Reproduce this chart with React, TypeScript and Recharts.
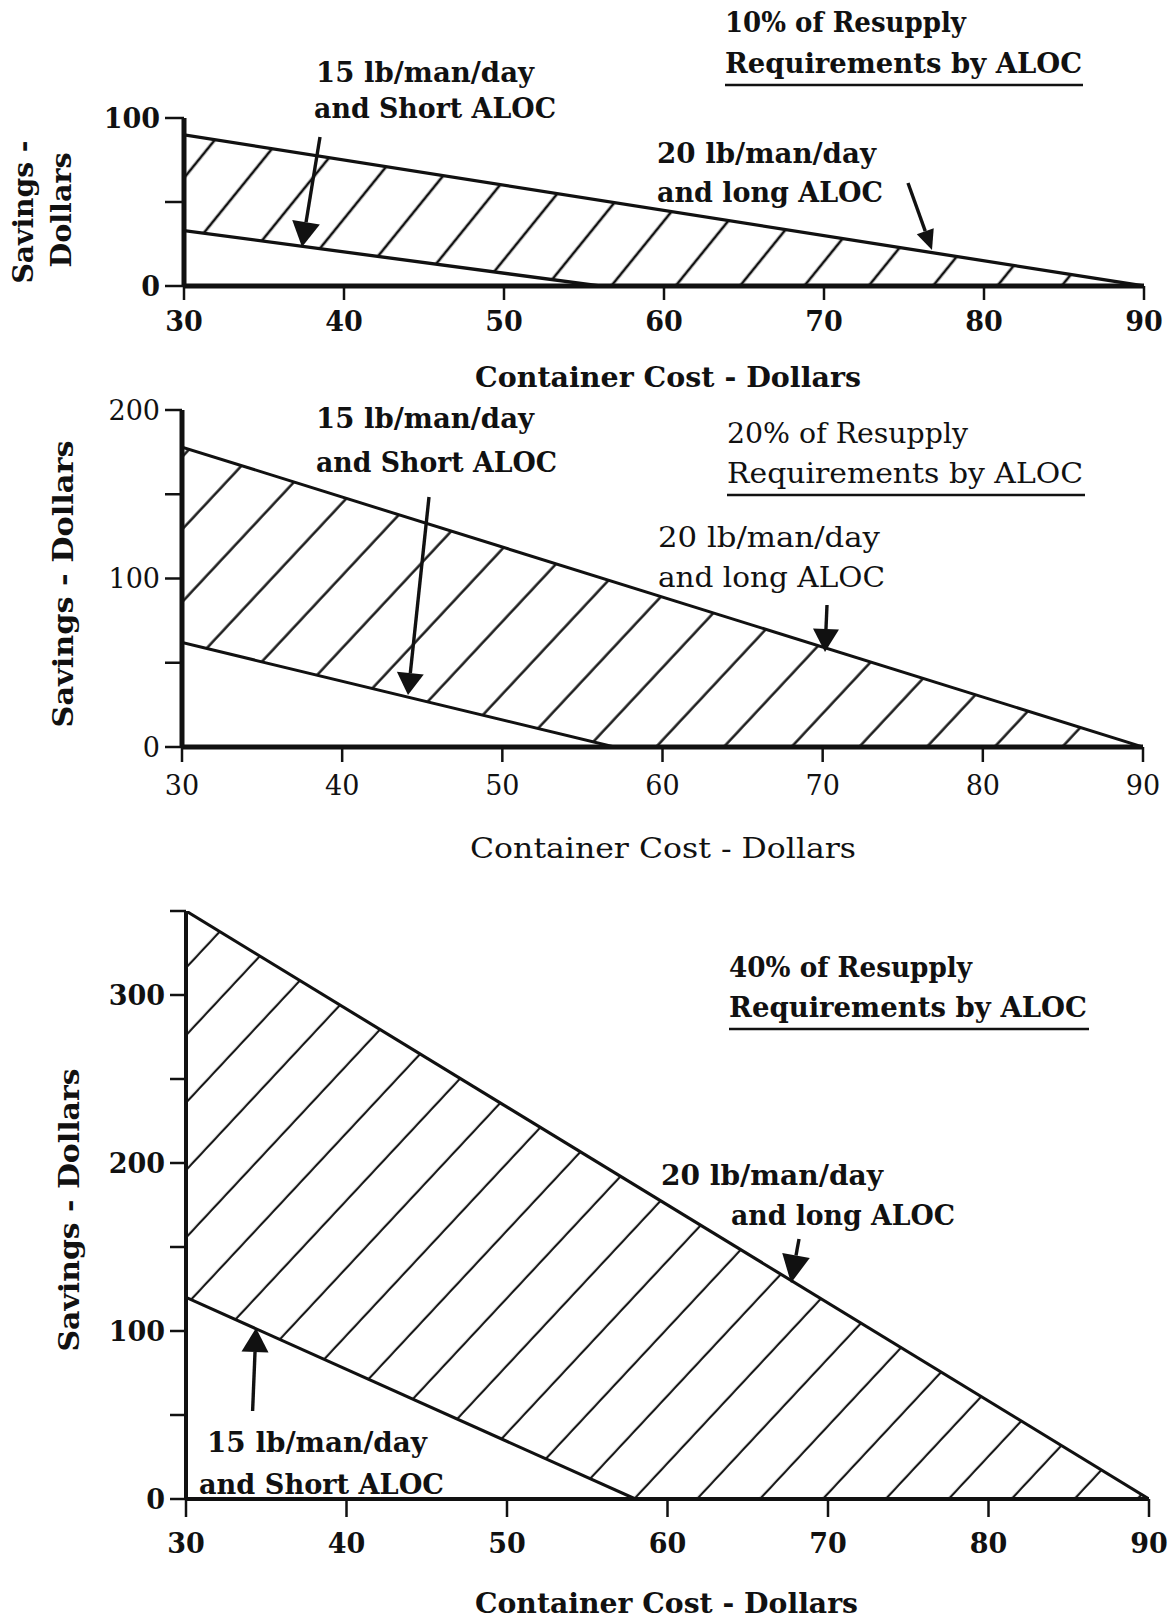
import React from 'react';
import { ComposedChart, Area, XAxis, YAxis } from 'recharts';

// ---------- data ----------
const xTicks = [30, 40, 50, 60, 70, 80, 90];

// Panel 1: 10% of resupply requirements by ALOC
const p1Cost = [30, 56, 90];
const p1Long = [90, null, 0]; // 20 lb/man/day and long ALOC
const p1Short = [33, 0, null]; // 15 lb/man/day and Short ALOC
const p1YTicks = [0, 50, 100];
const p1YLabels = [0, 100];

// Panel 2: 20%
const p2Cost = [30, 57, 90];
const p2Long = [178, null, 0];
const p2Short = [62, 0, null];
const p2YTicks = [0, 50, 100, 150, 200];
const p2YLabels = [0, 100, 200];

// Panel 3: 40%
const p3Cost = [30, 58, 90];
const p3Long = [350, null, 0];
const p3Short = [120, 0, null];
const p3YTicks = [0, 50, 100, 150, 200, 250, 300, 350];
const p3YLabels = [0, 100, 200, 300];

const build = (cost: number[], long: (number | null)[], short: (number | null)[]) =>
  cost.map((c, i) => ({ cost: c, long: long[i], short: short[i] }));

const FONT = 'DejaVu Serif';
const INK = '#111';

type Panel = {
  id: string;
  data: any[];
  yMax: number;
  yTicks: number[];
  yLabels: number[];
  top: number;
  height: number;
  margin: { top: number; right: number; bottom: number; left: number };
  hatchAngle: number;
  hatchGap: number;
  hatchOff: number;
  hatchW: number;
  lineW: number;
  axisW: number;
  xTickSize: number;
  xTickMargin: number;
  yTickSize: number;
  yTickMargin: number;
  weight: string;
};

const panels: Panel[] = [
  {
    id: 'p1', data: build(p1Cost, p1Long, p1Short), yMax: 100, yTicks: p1YTicks, yLabels: p1YLabels,
    top: 0, height: 400, margin: { top: 118, right: 27, bottom: 64, left: 124 },
    hatchAngle: 39, hatchGap: 50, hatchOff: 5, hatchW: 2.6, lineW: 3.3, axisW: 5,
    xTickSize: 14, xTickMargin: 12, yTickSize: 19, yTickMargin: 5, weight: 'bold',
  },
  {
    id: 'p2', data: build(p2Cost, p2Long, p2Short), yMax: 200, yTicks: p2YTicks, yLabels: p2YLabels,
    top: 390, height: 440, margin: { top: 20, right: 28, bottom: 33, left: 122 },
    hatchAngle: 43, hatchGap: 49.5, hatchOff: 30.3, hatchW: 2.4, lineW: 3, axisW: 5,
    xTickSize: 15, xTickMargin: 14, yTickSize: 17, yTickMargin: 5, weight: 'normal',
  },
  {
    id: 'p3', data: build(p3Cost, p3Long, p3Short), yMax: 350, yTicks: p3YTicks, yLabels: p3YLabels,
    top: 880, height: 740, margin: { top: 31, right: 22, bottom: 71, left: 126 },
    hatchAngle: 43, hatchGap: 46, hatchOff: 11.9, hatchW: 2.1, lineW: 3.1, axisW: 4,
    xTickSize: 18, xTickMargin: 17, yTickSize: 16, yTickMargin: 5, weight: 'bold',
  },
];

function PanelChart({ p }: { p: Panel }) {
  const tickStyle = { fill: INK, fontSize: 27, fontFamily: FONT, fontWeight: p.weight as any };
  return (
    <div style={{ position: 'absolute', left: 0, top: p.top, width: 1171, height: p.height }}>
      <ComposedChart width={1171} height={p.height} data={p.data} margin={p.margin}>
        <defs>
          <pattern
            id={`hatch-${p.id}`}
            patternUnits="userSpaceOnUse"
            width={p.hatchGap}
            height={10}
            patternTransform={`rotate(${p.hatchAngle})`}
          >
            <rect x={0} y={0} width={p.hatchGap} height={10} fill="#fff" />
            <line x1={p.hatchOff} y1={-1} x2={p.hatchOff} y2={11} stroke={INK} strokeWidth={p.hatchW} />
          </pattern>
        </defs>
        <Area
          type="linear"
          dataKey="long"
          connectNulls
          stroke={INK}
          strokeWidth={p.lineW}
          fill={`url(#hatch-${p.id})`}
          fillOpacity={1}
          dot={false}
          activeDot={false}
          isAnimationActive={false}
        />
        <Area
          type="linear"
          dataKey="short"
          stroke={INK}
          strokeWidth={p.lineW}
          fill="#fff"
          fillOpacity={1}
          dot={false}
          activeDot={false}
          isAnimationActive={false}
        />
        <XAxis
          dataKey="cost"
          type="number"
          domain={[30, 90]}
          ticks={xTicks}
          interval={0}
          height={50}
          tickSize={p.xTickSize}
          tickMargin={p.xTickMargin}
          axisLine={{ stroke: INK, strokeWidth: p.axisW }}
          tickLine={{ stroke: INK, strokeWidth: 2.5 }}
          tick={tickStyle}
          allowDataOverflow
        />
        <YAxis
          type="number"
          domain={[0, p.yMax]}
          ticks={p.yTicks}
          interval={0}
          width={60}
          tickSize={p.yTickSize}
          tickMargin={p.yTickMargin}
          tickFormatter={(v: number) => (p.yLabels.includes(v) ? String(v) : '')}
          axisLine={{ stroke: INK, strokeWidth: p.axisW }}
          tickLine={{ stroke: INK, strokeWidth: 2.5 }}
          tick={tickStyle}
          allowDataOverflow
        />
      </ComposedChart>
    </div>
  );
}

// ---------- annotation layout ----------
type Txt = { t: string; x: number; y: number; w: number; weight: string; rot?: boolean };
const texts: Txt[] = [
  // panel 1
  { t: '15 lb/man/day', x: 316, y: 72, w: 218, weight: 'bold' },
  { t: 'and Short ALOC', x: 314, y: 108, w: 242, weight: 'bold' },
  { t: '10% of Resupply', x: 725, y: 22, w: 241, weight: 'bold' },
  { t: 'Requirements by ALOC', x: 725, y: 63, w: 357, weight: 'bold' },
  { t: '20 lb/man/day', x: 657, y: 153, w: 219, weight: 'bold' },
  { t: 'and long ALOC', x: 657, y: 192, w: 226, weight: 'bold' },
  { t: 'Container Cost - Dollars', x: 475, y: 377, w: 386, weight: 'bold' },
  { t: 'Savings -', x: 23, y: 212, w: 143, weight: 'bold', rot: true },
  { t: 'Dollars', x: 61, y: 210, w: 115, weight: 'bold', rot: true },
  // panel 2
  { t: '15 lb/man/day', x: 316, y: 418, w: 218, weight: 'bold' },
  { t: 'and Short ALOC', x: 316, y: 462, w: 241, weight: 'bold' },
  { t: '20% of Resupply', x: 727, y: 433, w: 241, weight: 'normal' },
  { t: 'Requirements by ALOC', x: 727, y: 473, w: 356, weight: 'normal' },
  { t: '20 lb/man/day', x: 658, y: 537, w: 222, weight: 'normal' },
  { t: 'and long ALOC', x: 658, y: 577, w: 227, weight: 'normal' },
  { t: 'Container Cost - Dollars', x: 470, y: 848, w: 386, weight: 'normal' },
  { t: 'Savings - Dollars', x: 63, y: 584, w: 287, weight: 'bold', rot: true },
  // panel 3
  { t: '40% of Resupply', x: 729, y: 967, w: 243, weight: 'bold' },
  { t: 'Requirements by ALOC', x: 729, y: 1007, w: 358, weight: 'bold' },
  { t: '20 lb/man/day', x: 661, y: 1175, w: 222, weight: 'bold' },
  { t: 'and long ALOC', x: 731, y: 1215, w: 224, weight: 'bold' },
  { t: '15 lb/man/day', x: 207, y: 1442, w: 220, weight: 'bold' },
  { t: 'and Short ALOC', x: 199, y: 1484, w: 245, weight: 'bold' },
  { t: 'Container Cost - Dollars', x: 475, y: 1603, w: 383, weight: 'bold' },
  { t: 'Savings - Dollars', x: 69, y: 1210, w: 283, weight: 'bold', rot: true },
];

const underlines = [
  { x1: 725, x2: 1083, y: 85 },
  { x1: 727, x2: 1085, y: 495 },
  { x1: 729, x2: 1089, y: 1029 },
];

const arrows = [
  { x1: 320, y1: 137, x2: 302, y2: 247, L: 25, W: 28 },
  { x1: 908, y1: 183, x2: 932, y2: 250, L: 20, W: 18 },
  { x1: 429, y1: 497, x2: 408, y2: 695, L: 22, W: 27 },
  { x1: 827, y1: 605, x2: 825, y2: 652, L: 23, W: 26 },
  { x1: 799, y1: 1239, x2: 791, y2: 1283, L: 28, W: 28 },
  { x1: 252.6, y1: 1411, x2: 256, y2: 1328, L: 24, W: 27 },
];

function Arrow({ a }: { a: typeof arrows[number] }) {
  const dx = a.x2 - a.x1;
  const dy = a.y2 - a.y1;
  const len = Math.hypot(dx, dy);
  const ux = dx / len;
  const uy = dy / len;
  const bx = a.x2 - ux * a.L;
  const by = a.y2 - uy * a.L;
  const px = -uy * (a.W / 2);
  const py = ux * (a.W / 2);
  return (
    <g>
      <line x1={a.x1} y1={a.y1} x2={bx} y2={by} stroke={INK} strokeWidth={3.4} />
      <polygon points={`${a.x2},${a.y2} ${bx + px},${by + py} ${bx - px},${by - py}`} fill={INK} />
    </g>
  );
}

function Overlay() {
  return (
    <svg width={1171} height={1620} style={{ position: 'absolute', left: 0, top: 0, pointerEvents: 'none' }}>
      {texts.map((t, i) => (
        <text
          key={i}
          x={t.x}
          y={t.y}
          transform={t.rot ? `rotate(-90 ${t.x} ${t.y})` : undefined}
          textAnchor={t.rot ? 'middle' : 'start'}
          dominantBaseline="central"
          textLength={t.w}
          lengthAdjust="spacingAndGlyphs"
          fontFamily={FONT}
          fontSize={27}
          fontWeight={t.weight}
          fill={INK}
        >
          {t.t}
        </text>
      ))}
      {underlines.map((u, i) => (
        <line key={i} x1={u.x1} x2={u.x2} y1={u.y} y2={u.y} stroke={INK} strokeWidth={2.5} />
      ))}
      {arrows.map((a, i) => (
        <Arrow key={i} a={a} />
      ))}
    </svg>
  );
}

export default function App() {
  return (
    <div style={{ position: 'absolute', left: 0, top: 0, width: 1171, height: 1620, background: '#fff', overflow: 'hidden' }}>
      {panels.map((p) => (
        <PanelChart key={p.id} p={p} />
      ))}
      <Overlay />
    </div>
  );
}
